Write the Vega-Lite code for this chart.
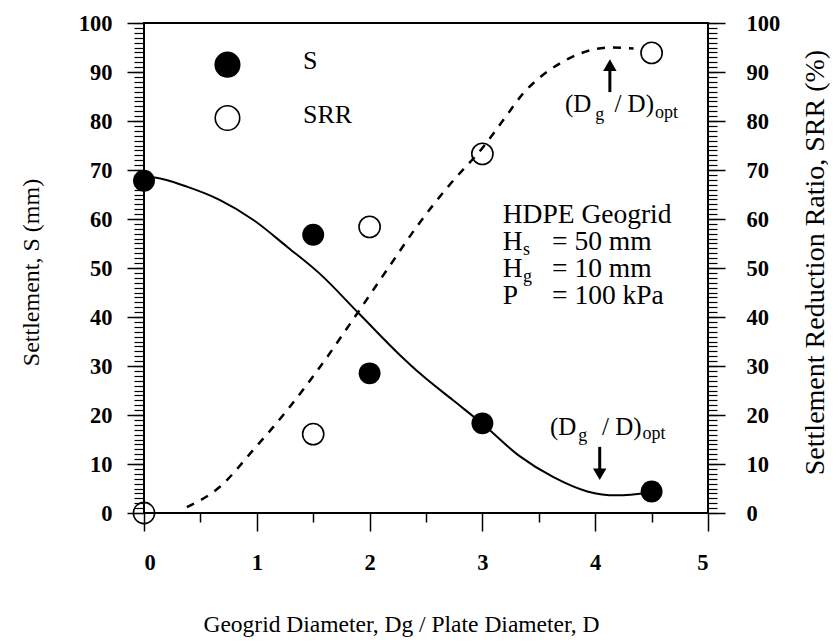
{
  "$schema": "https://vega.github.io/schema/vega-lite/v6.json",
  "width": 564,
  "height": 490,
  "autosize": {"type": "none"},
  "padding": {"left": 144, "top": 23, "right": 129, "bottom": 129},
  "background": "white",
  "config": {
    "view": {"stroke": "black", "strokeWidth": 2},
    "font": "Liberation Serif, serif",
    "axis": {
      "grid": false,
      "domain": false,
      "tickColor": "black",
      "tickWidth": 1.5,
      "labelColor": "black",
      "titleColor": "black",
      "labelFont": "Liberation Serif, serif",
      "titleFont": "Liberation Serif, serif",
      "labelFontSize": 22.5,
      "labelFontWeight": "bold",
      "titleFontWeight": "normal"
    }
  },
  "datasets": {
    "sCurve": [
      {"x": 0, "y": 68.6}, {"x": 0.11, "y": 68.4}, {"x": 0.38, "y": 66.6}, {"x": 0.67, "y": 63.9},
      {"x": 0.97, "y": 59.8}, {"x": 1.27, "y": 54.3}, {"x": 1.56, "y": 48.8}, {"x": 1.91, "y": 40.6},
      {"x": 2.27, "y": 32.2}, {"x": 2.45, "y": 28.4}, {"x": 2.74, "y": 23}, {"x": 3.0, "y": 18.2},
      {"x": 3.33, "y": 11.6}, {"x": 3.63, "y": 7.3}, {"x": 3.93, "y": 4.4}, {"x": 4.19, "y": 3.6},
      {"x": 4.49, "y": 4.2}
    ],
    "srrCurve": [
      {"x": 0.38, "y": 1.2}, {"x": 0.67, "y": 5.3}, {"x": 0.97, "y": 12.9}, {"x": 1.27, "y": 21},
      {"x": 1.56, "y": 29.8}, {"x": 1.91, "y": 41.4}, {"x": 2.18, "y": 50.5}, {"x": 2.42, "y": 58.5},
      {"x": 2.71, "y": 67}, {"x": 3.0, "y": 74.5}, {"x": 3.22, "y": 81.3}, {"x": 3.36, "y": 85.6},
      {"x": 3.51, "y": 88.9}, {"x": 3.69, "y": 91.8}, {"x": 3.87, "y": 93.8}, {"x": 4.13, "y": 95},
      {"x": 4.34, "y": 94.8}
    ],
    "points": [
      {"ratio": 0, "value": 67.8, "series": "S"},
      {"ratio": 1.5, "value": 56.8, "series": "S"},
      {"ratio": 2, "value": 28.5, "series": "S"},
      {"ratio": 3, "value": 18.3, "series": "S"},
      {"ratio": 4.5, "value": 4.4, "series": "S"},
      {"ratio": 0, "value": 0, "series": "SRR"},
      {"ratio": 1.5, "value": 16.1, "series": "SRR"},
      {"ratio": 2, "value": 58.4, "series": "SRR"},
      {"ratio": 3, "value": 73.3, "series": "SRR"},
      {"ratio": 4.5, "value": 93.9, "series": "SRR"}
    ],
    "legend": [
      {"x": 0.74, "y": 91.5, "tx": 1.41, "ty": 92.2, "series": "S"},
      {"x": 0.74, "y": 80.6, "tx": 1.41, "ty": 81.3, "series": "SRR"}
    ],
    "notes": [
      {"x": 3.18, "y": 59.2, "text": "HDPE Geogrid", "kind": "main"},
      {"x": 3.18, "y": 53.7, "text": "H", "kind": "main"},
      {"x": 3.617, "y": 53.7, "text": "= 50 mm", "kind": "main"},
      {"x": 3.18, "y": 48.2, "text": "H", "kind": "main"},
      {"x": 3.617, "y": 48.2, "text": "= 10 mm", "kind": "main"},
      {"x": 3.18, "y": 42.7, "text": "P", "kind": "main"},
      {"x": 3.617, "y": 42.7, "text": "= 100 kPa", "kind": "main"},
      {"x": 3.36, "y": 52.6, "text": "s", "kind": "sub"},
      {"x": 3.36, "y": 47.1, "text": "g", "kind": "sub"},
      {"x": 3.732, "y": 81.8, "text": "(D", "kind": "opt"},
      {"x": 4.17, "y": 81.8, "text": "/ D)", "kind": "opt"},
      {"x": 3.599, "y": 15.9, "text": "(D", "kind": "opt"},
      {"x": 4.06, "y": 15.9, "text": "/ D)", "kind": "opt"},
      {"x": 4.0, "y": 80.3, "text": "g", "kind": "sub"},
      {"x": 4.53, "y": 80.7, "text": "opt", "kind": "sub"},
      {"x": 3.85, "y": 14.6, "text": "g", "kind": "sub"},
      {"x": 4.42, "y": 15.2, "text": "opt", "kind": "sub"}
    ],
    "arrows": [
      {"x": 4.13, "ystart": 85.9, "yhead": 91.4, "dir": "up"},
      {"x": 4.04, "ystart": 13.5, "yhead": 7.9, "dir": "down"}
    ]
  },
  "layer": [
    {
      "data": {"name": "sCurve"},
      "mark": {"type": "line", "interpolate": "monotone", "color": "black", "strokeWidth": 2},
      "encoding": {
        "x": {
          "field": "x", "type": "quantitative",
          "scale": {"domain": [0, 5], "nice": false, "zero": false},
          "axis": {
            "orient": "bottom", "values": [0, 1, 2, 3, 4, 5], "tickSize": 18, "labelPadding": 20,
            "title": "Geogrid Diameter, Dg / Plate Diameter, D", "titleFontSize": 23.5,
            "titleBaseline": "alphabetic", "titleX": 257, "titleY": 118
          }
        },
        "y": {
          "field": "y", "type": "quantitative",
          "scale": {"domain": [0, 100], "nice": false},
          "axis": {
            "orient": "left", "values": [0, 10, 20, 30, 40, 50, 60, 70, 80, 90, 100],
            "tickSize": 17, "labelPadding": 15,
            "title": "Settlement, S (mm)", "titleFontSize": 24, "titleAngle": 270,
            "titleBaseline": "alphabetic", "titleX": -106, "titleY": 249
          }
        }
      }
    },
    {
      "data": {"name": "srrCurve"},
      "mark": {"type": "line", "interpolate": "monotone", "color": "black", "strokeWidth": 2.5, "strokeDash": [8, 8]},
      "encoding": {
        "x": {
          "field": "x", "type": "quantitative",
          "axis": {
            "orient": "bottom", "values": [0.5, 1.5, 2.5, 3.5, 4.5], "tickSize": 9,
            "labels": false, "title": null
          }
        },
        "y": {
          "field": "y", "type": "quantitative",
          "axis": {
            "orient": "right", "values": [0, 10, 20, 30, 40, 50, 60, 70, 80, 90, 100],
            "tickSize": 17, "labelPadding": 21,
            "title": "Settlement Reduction Ratio, SRR (%)", "titleFontSize": 28, "titleAngle": 270,
            "titleBaseline": "alphabetic", "titleX": 115, "titleY": 239
          }
        }
      }
    },
    {
      "data": {"name": "points"},
      "transform": [{"filter": "datum.series === 'S'"}],
      "mark": {"type": "point", "shape": "circle", "filled": true, "color": "black", "size": 480, "opacity": 1},
      "encoding": {
        "x": {"field": "ratio", "type": "quantitative", "axis": null},
        "y": {
          "field": "value", "type": "quantitative",
          "axis": {
            "orient": "left",
            "values": [0,1,2,3,4,5,6,7,8,9,10,11,12,13,14,15,16,17,18,19,20,21,22,23,24,25,26,27,28,29,30,31,32,33,34,35,36,37,38,39,40,41,42,43,44,45,46,47,48,49,50,51,52,53,54,55,56,57,58,59,60,61,62,63,64,65,66,67,68,69,70,71,72,73,74,75,76,77,78,79,80,81,82,83,84,85,86,87,88,89,90,91,92,93,94,95,96,97,98,99,100],
            "tickSize": 10, "tickWidth": 1.2, "labels": false, "title": null
          }
        }
      }
    },
    {
      "data": {"name": "points"},
      "transform": [{"filter": "datum.series === 'SRR'"}],
      "mark": {"type": "point", "shape": "circle", "filled": false, "color": "black", "strokeWidth": 1.6, "size": 450, "opacity": 1},
      "encoding": {
        "x": {"field": "ratio", "type": "quantitative", "axis": null},
        "y": {
          "field": "value", "type": "quantitative",
          "axis": {
            "orient": "right",
            "values": [0,1,2,3,4,5,6,7,8,9,10,11,12,13,14,15,16,17,18,19,20,21,22,23,24,25,26,27,28,29,30,31,32,33,34,35,36,37,38,39,40,41,42,43,44,45,46,47,48,49,50,51,52,53,54,55,56,57,58,59,60,61,62,63,64,65,66,67,68,69,70,71,72,73,74,75,76,77,78,79,80,81,82,83,84,85,86,87,88,89,90,91,92,93,94,95,96,97,98,99,100],
            "tickSize": 9, "tickWidth": 1.2, "labels": false, "title": null
          }
        }
      }
    },
    {
      "data": {"name": "legend"},
      "mark": {"type": "point", "shape": "circle", "filled": true, "stroke": "black", "strokeWidth": 1.6, "size": 600, "opacity": 1},
      "encoding": {
        "x": {"field": "x", "type": "quantitative", "axis": null},
        "y": {"field": "y", "type": "quantitative", "axis": null},
        "fill": {"field": "series", "type": "nominal", "scale": {"domain": ["S", "SRR"], "range": ["black", "white"]}, "legend": null}
      }
    },
    {
      "data": {"name": "legend"},
      "mark": {"type": "text", "align": "left", "baseline": "middle", "fontSize": 26, "color": "black"},
      "encoding": {
        "x": {"field": "tx", "type": "quantitative", "axis": null},
        "y": {"field": "ty", "type": "quantitative", "axis": null},
        "text": {"field": "series"}
      }
    },
    {
      "data": {"name": "notes"},
      "transform": [{"filter": "datum.kind === 'main'"}],
      "mark": {"type": "text", "align": "left", "baseline": "alphabetic", "fontSize": 27.5, "color": "black"},
      "encoding": {
        "x": {"field": "x", "type": "quantitative", "axis": null},
        "y": {"field": "y", "type": "quantitative", "axis": null},
        "text": {"field": "text"}
      }
    },
    {
      "data": {"name": "notes"},
      "transform": [{"filter": "datum.kind === 'opt'"}],
      "mark": {"type": "text", "align": "left", "baseline": "alphabetic", "fontSize": 25, "color": "black"},
      "encoding": {
        "x": {"field": "x", "type": "quantitative", "axis": null},
        "y": {"field": "y", "type": "quantitative", "axis": null},
        "text": {"field": "text"}
      }
    },
    {
      "data": {"name": "notes"},
      "transform": [{"filter": "datum.kind === 'sub'"}],
      "mark": {"type": "text", "align": "left", "baseline": "alphabetic", "fontSize": 18, "color": "black"},
      "encoding": {
        "x": {"field": "x", "type": "quantitative", "axis": null},
        "y": {"field": "y", "type": "quantitative", "axis": null},
        "text": {"field": "text"}
      }
    },
    {
      "data": {"name": "arrows"},
      "mark": {"type": "rule", "color": "black", "strokeWidth": 3},
      "encoding": {
        "x": {"field": "x", "type": "quantitative", "axis": null},
        "y": {"field": "ystart", "type": "quantitative", "axis": null},
        "y2": {"field": "yhead"}
      }
    },
    {
      "data": {"name": "arrows"},
      "mark": {"type": "point", "filled": true, "color": "black", "size": 180, "opacity": 1},
      "encoding": {
        "x": {"field": "x", "type": "quantitative", "axis": null},
        "y": {"field": "yhead", "type": "quantitative", "axis": null},
        "shape": {"field": "dir", "type": "nominal", "scale": {"domain": ["up", "down"], "range": ["triangle-up", "triangle-down"]}, "legend": null}
      }
    }
  ],
  "resolve": {"axis": {"x": "independent", "y": "independent"}}
}
